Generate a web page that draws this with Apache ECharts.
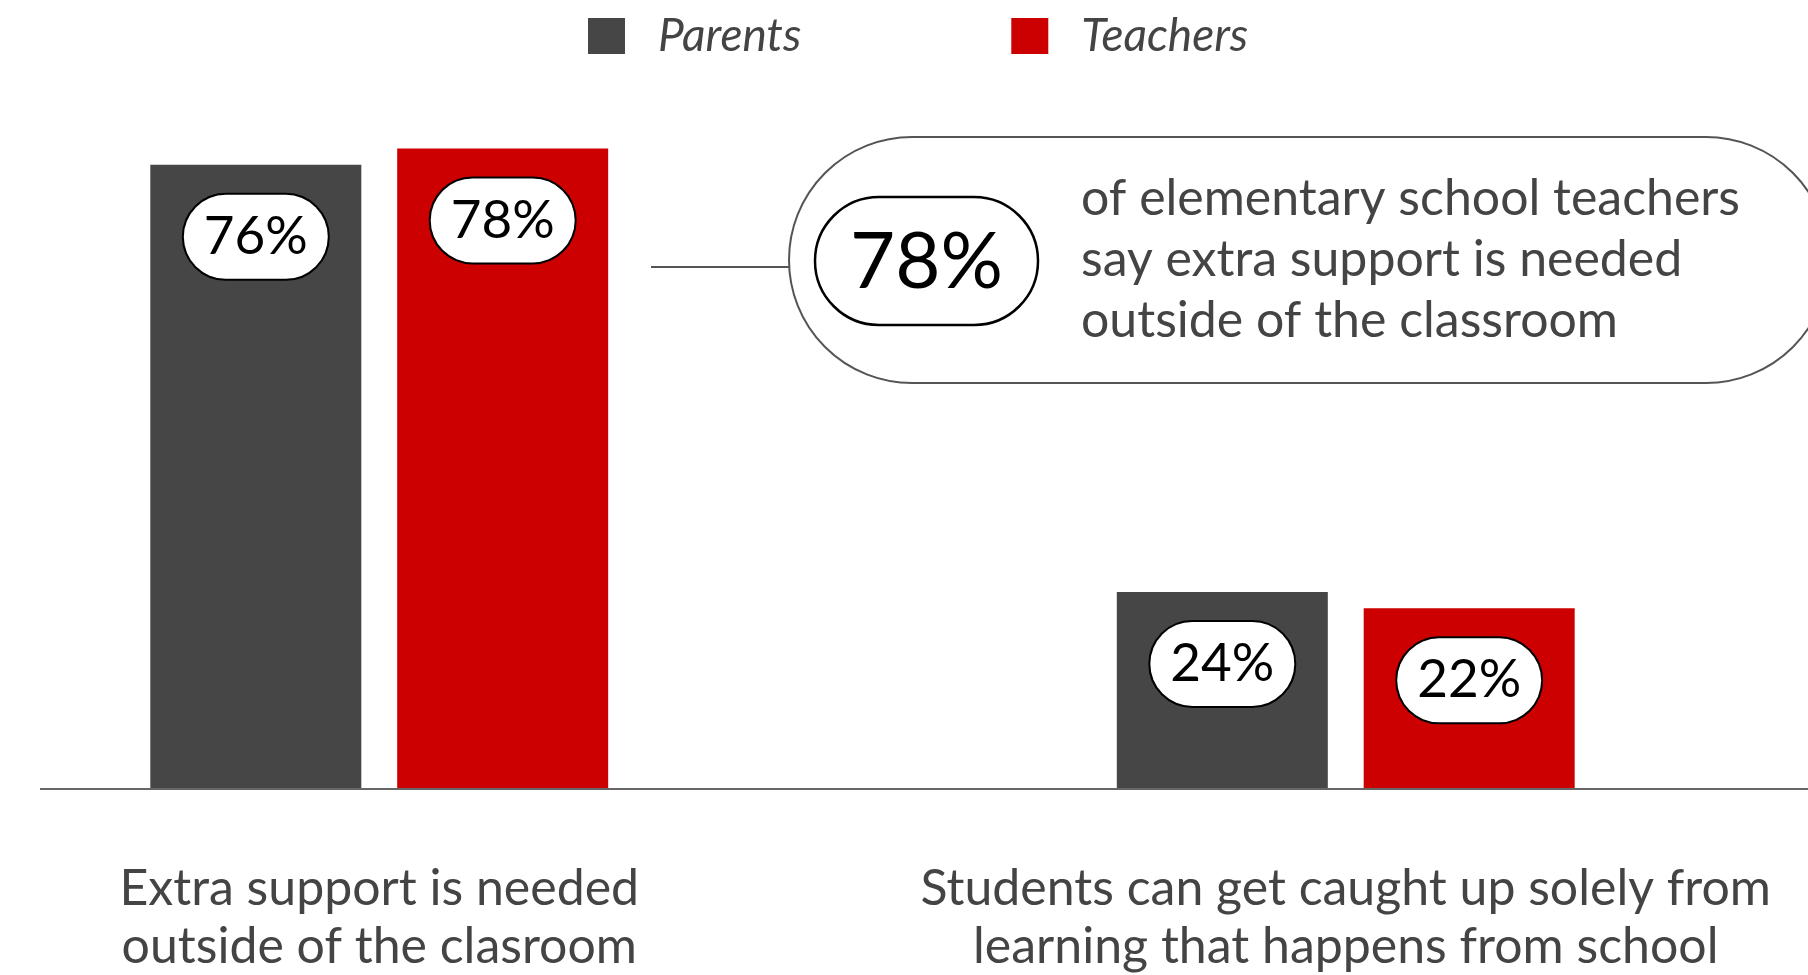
<!DOCTYPE html>
<html>
<head>
<meta charset="utf-8">
<title>Extra support outside of the classroom</title>
<script src="https://cdn.jsdelivr.net/npm/echarts@6/dist/echarts.min.js"></script>
<style>
  html, body { margin: 0; padding: 0; background: #ffffff; }
  #chart { width: 1808px; height: 975px; }
</style>
</head>
<body>
<div id="chart"></div>
<script>
// Survey statements (x-axis categories)
const categories = [
  'Extra support is needed\noutside of the clasroom',
  'Students can get caught up solely from\nlearning that happens from school'
];
// Share agreeing, in percent
const parents = [76, 24];
const teachers = [78, 22];
const seriesNames = ['Parents', 'Teachers'];
// Callout text beside the chart
const calloutLines = [
  'of elementary school teachers',
  'say extra support is needed',
  'outside of the classroom'
];

const FONT = 'Lato, "Noto Sans", sans-serif';
const DARK = '#464646';
const RED = '#cc0000';
const TEXT = '#444444';

const chart = echarts.init(document.getElementById('chart'), null, { renderer: 'canvas' });

const pillLabel = {
  show: true,
  position: 'insideTop',
  distance: 30,
  formatter: '{c}%',
  fontFamily: FONT,
  fontSize: 53,
  lineHeight: 50,
  color: '#000000',
  backgroundColor: '#ffffff',
  borderColor: '#000000',
  borderWidth: 2,
  borderRadius: 43,
  padding: [17, 20]
};

chart.setOption({
  animation: false,
  backgroundColor: '#ffffff',
  legend: {
    data: seriesNames,
    left: 588,
    top: 13,
    padding: 0,
    itemWidth: 37,
    itemHeight: 36,
    itemGap: 210,
    icon: 'rect',
    selectedMode: false,
    textStyle: {
      fontFamily: FONT,
      fontStyle: 'italic',
      fontSize: 46,
      lineHeight: 46,
      color: TEXT,
      padding: [0, 0, 0, 28]
    }
  },
  grid: {
    left: -104,
    right: -21,
    top: 132,
    bottom: 186,
    containLabel: false,
    outerBoundsMode: 'none'
  },
  xAxis: {
    type: 'category',
    data: categories,
    axisLine: { show: false },
    axisTick: { show: false },
    axisLabel: {
      interval: 0,
      margin: 71,
      fontFamily: FONT,
      fontSize: 50,
      lineHeight: 58,
      color: TEXT,
      align: 'center'
    }
  },
  yAxis: {
    type: 'value',
    min: 0,
    max: 80,
    show: false,
    splitLine: { show: false }
  },
  series: [
    {
      name: seriesNames[0],
      type: 'bar',
      data: parents,
      barWidth: 211,
      barGap: '17%',
      itemStyle: { color: DARK },
      label: pillLabel
    },
    {
      name: seriesNames[1],
      type: 'bar',
      data: teachers,
      barWidth: 211,
      barGap: '17%',
      itemStyle: { color: RED },
      label: pillLabel
    }
  ]
});

// Baseline along value 0, running from the left margin to the right edge
const baseY = chart.convertToPixel({ yAxisIndex: 0 }, 0);

chart.setOption({
  graphic: [
    {
      type: 'line',
      shape: { x1: 40, y1: baseY, x2: 1808, y2: baseY },
      style: { stroke: '#666666', lineWidth: 2 },
      z: 10
    },
    // connector from the teachers' bar to the callout
    {
      type: 'line',
      shape: { x1: 651, y1: 267, x2: 789, y2: 267 },
      style: { stroke: '#555555', lineWidth: 2 }
    },
    // outer rounded callout frame (runs past the right edge)
    {
      type: 'rect',
      shape: { x: 789, y: 137, width: 1040, height: 246, r: 123 },
      style: { fill: '#ffffff', stroke: '#555555', lineWidth: 2 }
    },
    // highlighted figure in its own pill
    {
      type: 'rect',
      shape: { x: 815, y: 197, width: 223, height: 128, r: 64 },
      style: { fill: '#ffffff', stroke: '#000000', lineWidth: 2.5 },
      z: 2
    },
    {
      type: 'text',
      x: 926.5,
      y: 263,
      z: 3,
      style: {
        text: teachers[0] + '%',
        fontFamily: FONT,
        fontSize: 78,
        fill: '#000000',
        align: 'center',
        verticalAlign: 'middle'
      }
    },
    {
      type: 'text',
      x: 1081,
      y: 168,
      z: 3,
      style: {
        text: calloutLines.join('\n'),
        fontFamily: FONT,
        fontSize: 50,
        lineHeight: 61,
        fill: TEXT,
        align: 'left',
        verticalAlign: 'top'
      }
    }
  ]
});
</script>
</body>
</html>
